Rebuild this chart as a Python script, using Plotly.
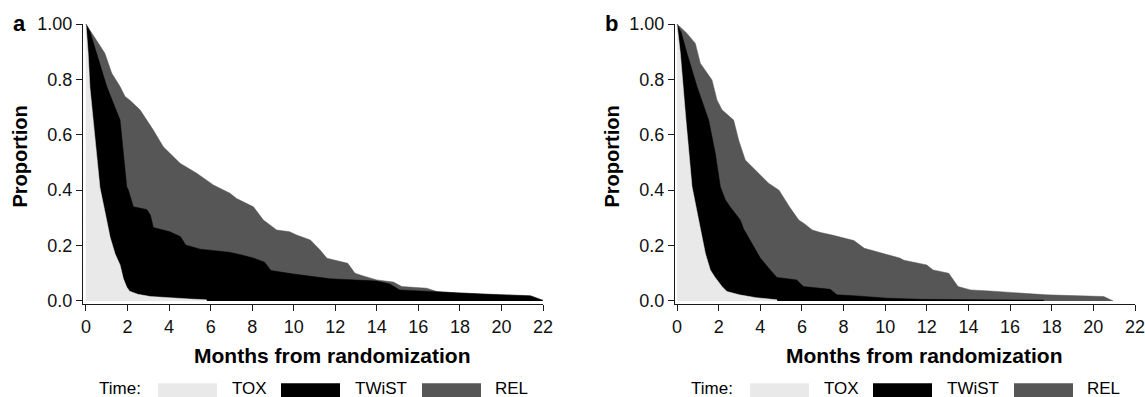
import plotly.graph_objects as go

W, H = 1145, 397

# ---------------- data ----------------
# Panel a: cumulative boundaries (months, proportion)
tox_a_t = [0, 0.1, 0.19, 0.35, 0.51, 0.67, 1.0, 1.16, 1.4, 1.64, 1.8, 1.96, 2.1, 2.5, 3.1, 4.0, 5.0, 5.8, 5.81]
tox_a_v = [1.0, 0.90, 0.77, 0.65, 0.53, 0.41, 0.29, 0.23, 0.17, 0.13, 0.08, 0.05, 0.035, 0.024, 0.016, 0.011, 0.007, 0.004, 0.0]

twist_a_t = [0, 0.2, 0.51, 1.0, 1.64, 1.8, 1.96, 2.04, 2.28, 2.92, 3.1, 3.24, 4.04, 4.55, 4.8, 5.5, 6.9, 7.5, 8.05,
             8.6, 8.9, 10.0, 11.75, 14.0, 14.6, 15.1, 16.7, 17.85, 19.5, 21.4, 22.0]
twist_a_v = [1.0, 0.97, 0.894, 0.774, 0.653, 0.533, 0.413, 0.40, 0.34, 0.33, 0.31, 0.265, 0.25, 0.232, 0.202, 0.187,
             0.176, 0.166, 0.155, 0.14, 0.11, 0.097, 0.08, 0.072, 0.062, 0.04, 0.034, 0.027, 0.023, 0.018, 0.002]

rel_a_t = [0, 0.19, 0.67, 0.91, 1.24, 1.64, 1.88, 2.1, 2.6, 3.24, 3.72, 4.53, 5.33, 6.13, 6.93, 7.25, 8.06, 8.54,
           9.18, 9.8, 10.14, 10.8, 11.27, 11.6, 12.6, 12.95, 13.35, 14.0, 14.8, 15.2, 16.4, 16.9, 17.85, 19.5, 21.4, 22.0]
rel_a_v = [1.0, 0.978, 0.918, 0.894, 0.822, 0.774, 0.738, 0.726, 0.69, 0.617, 0.557, 0.497, 0.461, 0.419, 0.389, 0.37,
           0.34, 0.292, 0.256, 0.25, 0.238, 0.22, 0.184, 0.154, 0.136, 0.10, 0.09, 0.076, 0.068, 0.052, 0.046, 0.034,
           0.029, 0.024, 0.019, 0.002]

# Panel b
tox_b_t = [0, 0.16, 0.43, 0.72, 1.04, 1.36, 1.6, 1.8, 2.16, 2.4, 3.0, 3.8, 4.8, 4.81]
tox_b_v = [1.0, 0.894, 0.653, 0.413, 0.292, 0.172, 0.112, 0.088, 0.052, 0.034, 0.022, 0.012, 0.004, 0.0]

twist_b_t = [0, 0.2, 0.48, 0.96, 1.52, 1.84, 2.08, 2.32, 2.55, 3.04, 3.2, 3.6, 4.0, 4.5, 4.8, 5.75, 6.07, 7.36,
             7.68, 8.5, 10.1, 11.7, 14.6, 17.6, 17.61]
twist_b_v = [1.0, 0.97, 0.894, 0.774, 0.653, 0.533, 0.413, 0.365, 0.34, 0.292, 0.26, 0.21, 0.155, 0.11, 0.085,
             0.076, 0.052, 0.042, 0.022, 0.019, 0.01, 0.006, 0.004, 0.003, 0.0]

rel_b_t = [0, 0.48, 0.88, 1.12, 1.68, 1.92, 2.16, 2.72, 2.96, 3.28, 3.92, 4.4, 4.9, 5.4, 5.85, 6.1, 6.5, 6.9, 7.45,
           8.5, 9.0, 10.7, 10.9, 12.0, 12.3, 13.05, 13.5, 14.1, 15.0, 17.75, 20.5, 20.9, 20.95]
rel_b_v = [1.0, 0.966, 0.93, 0.858, 0.798, 0.726, 0.69, 0.653, 0.581, 0.509, 0.461, 0.425, 0.40, 0.34, 0.292, 0.28,
           0.256, 0.247, 0.238, 0.218, 0.19, 0.155, 0.147, 0.13, 0.112, 0.10, 0.052, 0.04, 0.036, 0.022, 0.016,
           0.001, 0.0]

x_ticks = [0, 2, 4, 6, 8, 10, 12, 14, 16, 18, 20, 22]
y_ticks = [0, 0.2, 0.4, 0.6, 0.8, 1.0]
y_ticktext = ["0.0", "0.2", "0.4", "0.6", "0.8", "1.00"]
states = ["TOX", "TWiST", "REL"]
colors = {"TOX": "#e9e9e9", "TWiST": "#000000", "REL": "#565656"}

# ---------------- figure ----------------
FONT = "Liberation Sans, Arial, Helvetica, sans-serif"
fig = go.Figure()

panels = [
    ("x", "y", {"REL": (rel_a_t, rel_a_v), "TWiST": (twist_a_t, twist_a_v), "TOX": (tox_a_t, tox_a_v)}),
    ("x2", "y2", {"REL": (rel_b_t, rel_b_v), "TWiST": (twist_b_t, twist_b_v), "TOX": (tox_b_t, tox_b_v)}),
]
for xa, ya, curves in panels:
    for s in ["REL", "TWiST", "TOX"]:
        t, v = curves[s]
        fig.add_trace(go.Scatter(x=t, y=v, xaxis=xa, yaxis=ya, mode="lines", fill="tozeroy",
                                 fillcolor=colors[s], line=dict(color=colors[s], width=0.5),
                                 name=s, showlegend=False, hoverinfo="skip"))

def px(x):
    return x / W

def py(y):
    return 1 - y / H

ax_common = dict(showline=True, linecolor="#1a1a1a", linewidth=1, ticks="outside", ticklen=6,
                 tickcolor="#1a1a1a", tickwidth=1, showgrid=False, zeroline=False, automargin=False,
                 ticklabeloverflow="allow",
                 tickfont=dict(family=FONT, size=18, color="#111"))

fig.update_layout(
    width=W, height=H, margin=dict(l=0, r=0, t=0, b=0, autoexpand=False),
    plot_bgcolor="white", paper_bgcolor="white", showlegend=False,
    xaxis=dict(domain=[px(83), px(543)], range=[-0.144, 22], tickvals=x_ticks, anchor="y", **ax_common),
    yaxis=dict(domain=[py(304), py(24)], range=[-0.011, 1.0], tickvals=y_ticks, ticktext=y_ticktext,
               anchor="x", **ax_common),
    xaxis2=dict(domain=[px(675), px(1135)], range=[-0.096, 22], tickvals=x_ticks, anchor="y2", **ax_common),
    yaxis2=dict(domain=[py(304), py(24)], range=[-0.011, 1.0], tickvals=y_ticks, ticktext=y_ticktext,
                anchor="x2", **ax_common),
)

annotations = []
shapes = []
for off, letter in [(0, "a"), (592, "b")]:
    annotations.append(dict(text=f"<b>{letter}</b>", x=px(19.5 + off), y=py(23), xref="paper", yref="paper",
                            xanchor="center", yanchor="middle", showarrow=False,
                            font=dict(family=FONT, size=22, color="#000")))
    annotations.append(dict(text="<b>Proportion</b>", x=px(19.5 + off), y=py(157), xref="paper", yref="paper",
                            xanchor="center", yanchor="middle", textangle=-90, showarrow=False,
                            font=dict(family=FONT, size=20, color="#000")))
    annotations.append(dict(text="<b>Months from randomization</b>", x=px(332 + off), y=py(355),
                            xref="paper", yref="paper", xanchor="center", yanchor="middle", showarrow=False,
                            font=dict(family=FONT, size=21, color="#000")))
    # legend
    annotations.append(dict(text="Time:", x=px(96.5 + off), y=py(388), xref="paper", yref="paper",
                            xanchor="left", yanchor="middle", showarrow=False,
                            font=dict(family=FONT, size=17, color="#000")))
    box_l = [158, 281, 422]
    lab_l = [230, 353, 493]
    for s, bl, ll in zip(states, box_l, lab_l):
        shapes.append(dict(type="rect", xref="paper", yref="paper", x0=px(bl + off), x1=px(bl + 59 + off),
                           y0=py(397), y1=py(383.3), fillcolor=colors[s], line=dict(width=0)))
        annotations.append(dict(text=s, x=px(ll + off), y=py(388), xref="paper", yref="paper",
                                xanchor="left", yanchor="middle", showarrow=False,
                                font=dict(family=FONT, size=17, color="#000")))

fig.update_layout(annotations=annotations, shapes=shapes)
# remove the browser's default body margin so the figure fills the window exactly
fig.write_html("out.html", config={"displayModeBar": False, "staticPlot": True},
               post_script="document.body.style.margin='0px';document.body.style.overflow='hidden';")
